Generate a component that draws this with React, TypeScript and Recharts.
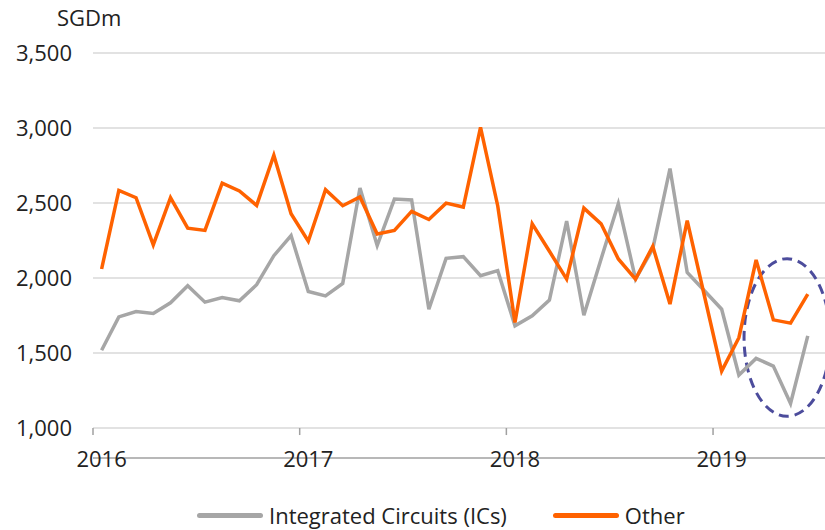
import { LineChart, Line, XAxis, YAxis, CartesianGrid, ReferenceArea, ReferenceLine } from "recharts";

// monthly, Jan 2016 .. Jun 2019
const icsValues = [
    1518, 1741, 1776, 1763, 1835, 1948, 1839, 1870, 1848, 1955, 2149, 2283,
    1910, 1881, 1964, 2600, 2216, 2526, 2520, 1792, 2131, 2142, 2015, 2049,
    1681, 1748, 1853, 2379, 1752, 2127, 2495, 1993, 2194, 2730, 2037, 1915,
    1792, 1353, 1464, 1413, 1163, 1614,
];
const otherValues = [
    2060, 2584, 2535, 2221, 2535, 2332, 2317, 2633, 2580, 2484, 2819, 2428,
    2245, 2589, 2482, 2540, 2294, 2317, 2444, 2390, 2499, 2473, 3004, 2480,
    1703, 2361, 2178, 1993, 2466, 2361, 2127, 1993, 2211, 1826, 2383, 1880,
    1379, 1602, 2120, 1721, 1699, 1893,
];
const yearTicks = [0, 12, 24, 36];
const yearLabels = ["2016", "2017", "2018", "2019"];
const yTicks = [1000, 1500, 2000, 2500, 3000, 3500];

// dashed circle around the latest months
const highlight = { x1: 37.3, x2: 42.3, y1: 1078, y2: 2129 };

const ICS = { name: "Integrated Circuits (ICs)", color: "#a6a6a6" };
const OTHER = { name: "Other", color: "#ff6200" };

const rows = icsValues.map((v, i) => ({ i, ics: v, other: otherValues[i] }));
// year boundaries get a small tick mark under the axis
const boundaryTicks = yearTicks.map((t) => t - 0.5);
const tickDepth = 47; // in SGDm units, ~7px below the axis

const FONT = "'Open Sans', sans-serif";

function DashedEllipse(props: any) {
    const { x, y, width, height } = props;
    return (
        <ellipse
            cx={x + width / 2}
            cy={y + height / 2}
            rx={width / 2}
            ry={height / 2}
            fill="none"
            stroke="#4c4c9c"
            strokeWidth={3}
            strokeDasharray="10 6"
        />
    );
}

function LegendRow() {
    return (
        <div
            style={{
                position: "absolute",
                top: 500,
                left: 197,
                display: "flex",
                alignItems: "center",
                fontSize: 22,
                lineHeight: "30px",
                color: "#222",
                whiteSpace: "nowrap",
            }}
        >
            {[ICS, OTHER].map((s, k) => (
                <div key={s.name} style={{ display: "flex", alignItems: "center", marginLeft: k ? 46 : 0 }}>
                    <span
                        style={{
                            display: "inline-block",
                            width: 66,
                            height: 5,
                            borderRadius: 2.5,
                            background: s.color,
                            marginRight: 6,
                        }}
                    />
                    <span>{s.name}</span>
                </div>
            ))}
        </div>
    );
}

export default function App() {
    return (
        <div
            style={{
                position: "absolute",
                left: 0,
                top: 0,
                width: 825,
                height: 530,
                background: "#fff",
                fontFamily: FONT,
            }}
        >
            <div style={{ position: "absolute", left: 57, top: 2, fontSize: 22, color: "#222" }}>SGDm</div>
            <LineChart
                width={825}
                height={530}
                data={rows}
                margin={{ top: 53, right: 0, bottom: 62, left: 0 }}
            >
                <CartesianGrid vertical={false} stroke="#d9d9d9" strokeWidth={1.5} />
                <XAxis
                    xAxisId="tk"
                    dataKey="i"
                    type="number"
                    domain={[-0.5, 42]}
                    ticks={boundaryTicks}
                    tick={false}
                    tickLine={false}
                    height={10}
                    axisLine={{ stroke: "#a0a0a0", strokeWidth: 1.5 }}
                />
                <XAxis
                    xAxisId="lbl"
                    dataKey="i"
                    type="number"
                    domain={[-0.5, 42]}
                    ticks={yearTicks}
                    tickFormatter={(v: number) => yearLabels[yearTicks.indexOf(v)] ?? ""}
                    axisLine={false}
                    tickLine={false}
                    height={30}
                    tickMargin={17}
                    tick={{ fontSize: 22, fill: "#222", fontFamily: FONT }}
                />
                <YAxis
                    domain={[1000, 3500]}
                    ticks={yTicks}
                    width={93}
                    axisLine={false}
                    tickLine={false}
                    tickMargin={15}
                    tickFormatter={(v: number) => v.toLocaleString("en-US")}
                    tick={{ fontSize: 22, fill: "#222", fontFamily: FONT }}
                />
                {boundaryTicks.map((t) => (
                    <ReferenceLine
                        key={t}
                        xAxisId="tk"
                        segment={[
                            { x: t, y: yTicks[0] },
                            { x: t, y: yTicks[0] - tickDepth },
                        ]}
                        ifOverflow="visible"
                        stroke="#a0a0a0"
                        strokeWidth={1.5}
                    />
                ))}
                <Line
                    xAxisId="tk"
                    type="linear"
                    dataKey="ics"
                    name={ICS.name}
                    stroke={ICS.color}
                    strokeWidth={3.5}
                    dot={false}
                    isAnimationActive={false}
                />
                <Line
                    xAxisId="tk"
                    type="linear"
                    dataKey="other"
                    name={OTHER.name}
                    stroke={OTHER.color}
                    strokeWidth={3.5}
                    dot={false}
                    isAnimationActive={false}
                />
                <ReferenceArea
                    xAxisId="tk"
                    x1={highlight.x1}
                    x2={highlight.x2}
                    y1={highlight.y1}
                    y2={highlight.y2}
                    ifOverflow="visible"
                    shape={<DashedEllipse />}
                />
            </LineChart>
            <LegendRow />
        </div>
    );
}
